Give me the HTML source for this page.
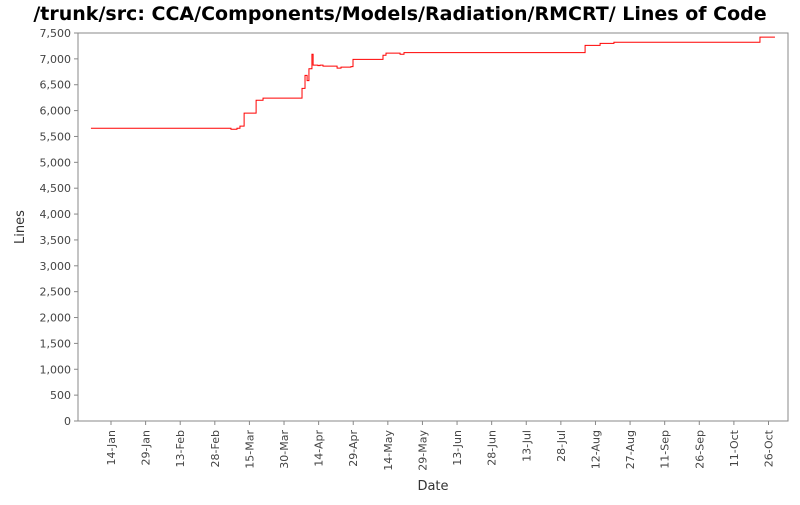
<!DOCTYPE html>
<html><head><meta charset="utf-8"><style>
body{margin:0;background:#fff;width:800px;height:500px;overflow:hidden}
svg text{font-family:"DejaVu Sans","Liberation Sans",sans-serif}
</style></head><body>
<svg id="c" width="800" height="500">
<text x="400" y="20" text-anchor="middle" font-size="19" font-weight="bold" fill="#000">/trunk/src: CCA/Components/Models/Radiation/RMCRT/ Lines of Code</text>
<rect x="78" y="33" width="710" height="388" fill="#fff" stroke="#888"/>
<text x="24" y="227" transform="rotate(-90 24 227)" text-anchor="middle" font-size="13" fill="#333">Lines</text>
<text x="433" y="490" text-anchor="middle" font-size="13" fill="#333">Date</text>
<g id="ax"></g><path id="ln" fill="none" stroke="#f00" stroke-width="1"/>
</svg>
<script>
const yTicks=[0,500,1000,1500,2000,2500,3000,3500,4000,4500,5000,5500,6000,6500,7000,7500];
const xTickLabels=["14-Jan","29-Jan","13-Feb","28-Feb","15-Mar","30-Mar","14-Apr","29-Apr","14-May","29-May","13-Jun","28-Jun","13-Jul","28-Jul","12-Aug","27-Aug","11-Sep","26-Sep","11-Oct","26-Oct"];
const xTickDays=[0,15,30,45,60,75,90,105,120,135,150,165,180,195,210,225,240,255,270,285];
const stepDays=[-8.7,52.0,54.6,55.9,57.7,62.9,65.9,82.8,84.1,85.0,85.8,87.1,87.6,89.7,90.6,91.9,98.0,99.7,104.0,104.9,117.9,119.2,125.3,127.0,205.5,212.0,218.0,281.3,287.8];
const stepValues=[5660,5640,5660,5700,5950,6200,6240,6430,6680,6580,6810,7090,6880,6870,6880,6860,6820,6840,6850,6990,7070,7110,7090,7120,7260,7300,7320,7420,7420];
const X0=111,PX=2.307,Y0=421,H=388;
const x=d=>X0+d*PX, y=v=>Y0-v/7500*H;
const ax=document.getElementById('ax'),NS='http://www.w3.org/2000/svg';
function mk(t,a){const e=document.createElementNS(NS,t);for(const k in a)e.setAttribute(k,a[k]);ax.appendChild(e);return e;}
yTicks.forEach(v=>{
 const t=mk('line',{x1:74,x2:78,y1:y(v),y2:y(v),stroke:'#888'});
 
 
 const l=mk('text',{x:71,y:y(v)+4,'text-anchor':'end','font-size':11,fill:'#444'});
 l.textContent=v.toLocaleString('en-US');
 
 
});
xTickDays.forEach((d,i)=>{
 const t=mk('line',{x1:x(d),x2:x(d),y1:421,y2:425,stroke:'#888'});
 
 
 const l=mk('text',{x:0,y:0,'text-anchor':'end','font-size':11,fill:'#444',transform:`translate(${x(d)+4},430) rotate(-90)`});
 l.textContent=xTickLabels[i];
 
 
});
let p='M'+x(stepDays[0])+','+y(stepValues[0]);
for(let i=1;i<stepDays.length;i++){p+=' H'+x(stepDays[i])+' V'+y(stepValues[i]);}
document.getElementById('ln').setAttribute('d',p);
</script>
</body></html>
